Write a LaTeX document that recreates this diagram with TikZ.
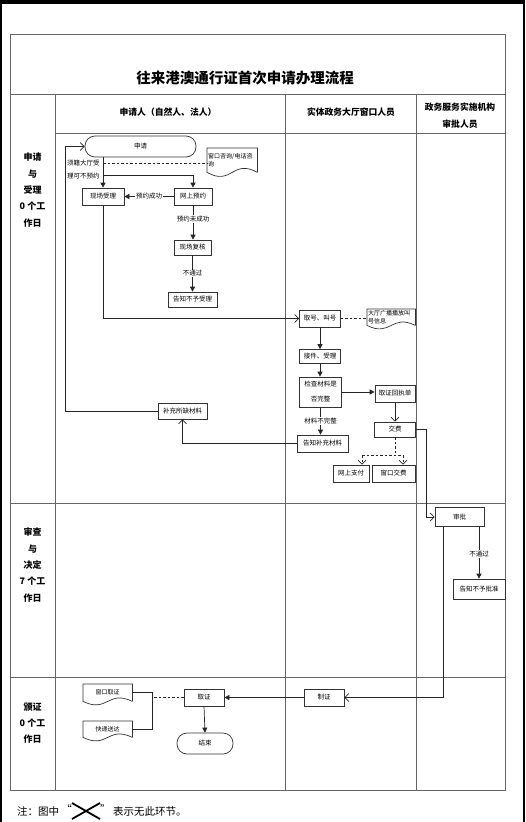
\documentclass[tikz,border=0pt]{standalone}
\usepackage{fontspec}
\setmainfont{Noto Sans CJK SC}
\usetikzlibrary{arrows.meta,calc}
\newcommand\docout[2]{%
  \draw[docline] (#1.south east) -- (#1.north east) -- (#1.north west) -- (#1.south west)
    .. controls ($(#1.south)+(0,#2)$) and ($(#1.south)+(0,-#2)$) .. (#1.south east);}
\tikzset{
  frame/.style={draw=black!60, line width=0.9pt},
  box/.style={draw=black!80, line width=0.7pt, fill=white, inner sep=0pt, align=center, font=\fontsize{6.5}{7.5}\selectfont},
  term/.style={box, rounded corners=10pt},
  docn/.style={inner sep=1pt, font=\fontsize{6}{8.5}\selectfont},
  docline/.style={draw=black!80, line width=0.7pt},
  flow/.style={draw=black!85, line width=0.7pt},
  fillarr/.style={flow, -{Triangle[length=5pt,width=5pt]}},
  openarr/.style={flow, -{Straight Barb[length=4pt,width=8pt]}},
  dsh/.style={flow, dash pattern=on 2.5pt off 2pt},
  lbl/.style={fill=white, inner sep=1pt, font=\fontsize{6.5}{7.5}\selectfont},
  hdr/.style={font=\bfseries\fontsize{8.8}{17}\selectfont, align=center},
  phase/.style={font=\bfseries\fontsize{9}{16.4}\selectfont, align=center},
  note/.style={font=\fontsize{10.5}{12}\selectfont, inner sep=0pt},
}
\begin{document}
\begin{tikzpicture}[x=1pt,y=-1pt]
\useasboundingbox (0,0) rectangle (525,822);
\fill[black] (0,0) rectangle (525,822);
\fill[white] (2,4) rectangle (523,822);
% table frame
\draw[frame] (10,34) rectangle (505,790);
\draw[frame] (10,94) -- (505,94);
\draw[frame] (55,133) -- (505,133);
\draw[frame] (10,503) -- (505,503);
\draw[frame] (10,677) -- (505,677);
\draw[frame] (55,94) -- (55,790);
\draw[frame] (285,94) -- (285,790);
\draw[frame] (416,94) -- (416,790);
% title and headers
\node[font=\bfseries\fontsize{14.5}{16}\selectfont] (title) at (245,78) {往来港澳通行证首次申请办理流程};
\node[hdr] (h1) at (168,112) {申请人（自然人、法人）};
\node[hdr] (h2) at (351,112) {实体政务大厅窗口人员};
\node[hdr] (h3) at (460,116) {政务服务实施机构\\审批人员};
\node[phase] (p1) at (32.5,190) {申请\\与\\受理\\0 个工\\作日};
\node[phase] (p2) at (32.5,565) {审查\\与\\决定\\7 个工\\作日};
\node[phase] (p3) at (32.5,723) {颁证\\0 个工\\作日};
% nodes
\node[term, minimum width=111pt, minimum height=21pt] (sq) at (140.5,146.5) {申请};
\node[docn, text width=48pt, minimum height=24pt, align=left, anchor=north west] (zx) at (207,148) {窗口咨询/电话咨\\询};
\docout{zx}{14}
\node[box, minimum width=42pt, minimum height=17pt] (xcsl) at (103,196.5) {现场受理};
\node[box, minimum width=38pt, minimum height=17pt] (wsyy) at (193,196.5) {网上预约};
\node[box, minimum width=37pt, minimum height=15pt] (xcfh) at (192.5,247.5) {现场复核};
\node[box, minimum width=49pt, minimum height=15pt] (gzbysl) at (192.5,299.5) {告知不予受理};
\node[box, minimum width=41pt, minimum height=17pt] (qh) at (320,318.5) {取号、叫号};
\node[docn, text width=46pt, minimum height=16pt, align=left, anchor=north west] (gb) at (367,309) {大厅广播播放叫\\号信息};
\docout{gb}{12}
\node[box, minimum width=41pt, minimum height=14pt] (jj) at (320,356.5) {接件、受理};
\node[box, minimum width=42pt, minimum height=30pt, font=\fontsize{6.5}{15}\selectfont] (jc) at (320.5,392) {检查材料是\\否完整};
\node[box, minimum width=40pt, minimum height=17pt] (qzhzd) at (395,393.5) {取证回执单};
\node[box, minimum width=41pt, minimum height=15pt] (jf) at (395,429.5) {交费};
\node[box, minimum width=51pt, minimum height=17pt] (gzbc) at (322.5,443.5) {告知补充材料};
\node[box, minimum width=36pt, minimum height=17pt] (wszf) at (351,473.5) {网上支付};
\node[box, minimum width=43pt, minimum height=17pt] (ckjf) at (393.5,473.5) {窗口交费};
\node[box, minimum width=49pt, minimum height=16pt] (bcsq) at (182.5,411) {补充所缺材料};
\node[box, minimum width=49pt, minimum height=19pt] (sp) at (459.5,517) {审批};
\node[box, minimum width=52pt, minimum height=20pt] (gzbypz) at (479,589) {告知不予批准};
\node[box, minimum width=40pt, minimum height=17pt] (zz) at (324,697.5) {制证};
\node[box, minimum width=40pt, minimum height=17pt] (qz) at (204,697.5) {取证};
\node[term, minimum width=56pt, minimum height=21pt] (js) at (205,743.5) {结束};
\node[docn, text width=47pt, minimum height=17pt, align=center, anchor=north west] (ckqz) at (83,684) {窗口取证};
\docout{ckqz}{12}
\node[docn, text width=47pt, minimum height=16pt, align=center, anchor=north west] (kdsd) at (83,721) {快递送达};
\docout{kdsd}{12}
% free text
\node[lbl, anchor=west, fill=none] (t1) at (66,163) {须籍大厅受};
\node[lbl, anchor=west, fill=none] (t2) at (66,176) {理可不预约};
% coordinates
\coordinate (lx) at (65,0);
\coordinate (br1) at (103,175);
\coordinate (dsh1) at (103,163);
\coordinate (jfr) at (426,0);
\coordinate (spl) at (443,0);
\coordinate (splitL) at (362,455);
\coordinate (splitR) at (403,455);
\coordinate (brk) at (152,0);
% connectors
\draw[openarr] (bcsq.west) -- (bcsq.west -| lx) |- (sq.west);
\draw[fillarr] (xcsl.north |- sq.south) -- (xcsl.north);
\draw[fillarr] (br1) -| (wsyy.north);
\draw[dsh] (dsh1) -- (dsh1 -| zx.west);
\draw[fillarr] (wsyy.west) -- node[lbl]{预约成功} (xcsl.east);
\draw[fillarr] (wsyy.south) -- node[lbl, pos=0.4]{预约未成功} (wsyy.south |- xcfh.north);
\draw[fillarr] (xcfh.south) -- node[lbl]{不通过} (gzbysl.north);
\draw[openarr] (xcsl.south) |- (qh.west);
\draw[dsh] (qh.east) -- (qh.east -| gb.west);
\draw[fillarr] (qh.south) -- (jj.north);
\draw[fillarr] (jj.south) -- (jc.north -| jj.south);
\draw[fillarr] (jc.east) -- (jc.east -| qzhzd.west);
\draw[openarr] (qzhzd.south) -- (jf.north);
\draw[fillarr] (jc.south) -- node[lbl]{材料不完整} (jc.south |- gzbc.north);
\draw[openarr] (gzbc.west) -| (bcsq.south);
\draw[dsh] (jf.south) -- (jf.south |- splitL);
\draw[dsh] (splitL) -- (splitR);
\draw[dsh, openarr] (splitL) -- (splitL |- wszf.north);
\draw[dsh, openarr] (splitR) -- (splitR |- ckjf.north);
\draw[openarr] (jf.east) -- (jf.east -| jfr) |- (sp.west);
\draw[openarr] (sp.south -| spl) |- (zz.east);
\draw[fillarr] (sp.south -| gzbypz.north) -- node[lbl, pos=0.52]{不通过} (gzbypz.north);
\draw[fillarr] (zz.west) -- (qz.east);
\draw[fillarr] (qz.south) -- (js.north);
\draw[dsh] (qz.west) -- (qz.west -| brk);
\draw[flow] (ckqz.east) -- (ckqz.east -| brk) -- (kdsd.east -| brk) -- (kdsd.east);
% footnote
\node[note, anchor=west] (n1) at (17,811) {注：图中};
\node[note, anchor=east] (q1) at (72,809) {“};
\draw[line width=1.8pt] (72,803) -- (86,811) -- (100,803);
\draw[line width=1.8pt] (72,819) -- (86,811) -- (100,819);
\node[note, anchor=west] (q2) at (100,809) {”};
\node[note, anchor=west] (n2) at (113,811) {表示无此环节。};
\end{tikzpicture}
\end{document}
